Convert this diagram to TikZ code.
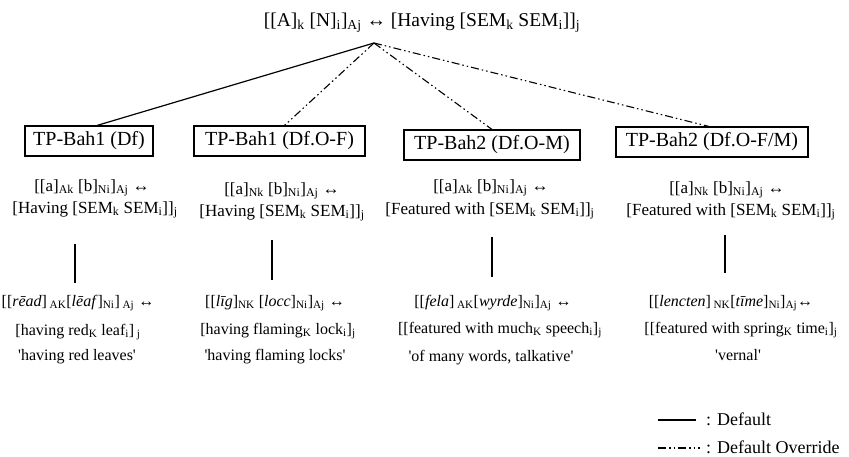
\documentclass[tikz,border=0pt]{standalone}
\usepackage{fontspec}
\setmainfont{Liberation Serif}
\newcommand{\sbs}[1]{\textsubscript{#1}}
\newcommand{\qq}{\textquotesingle}
\begin{document}
\begin{tikzpicture}[x=1pt,y=-1pt,
  ttl/.style={font=\fontsize{19.5}{23}\selectfont, inner sep=0, anchor=base},
  tpbox/.style={draw, line width=1.1pt, font=\fontsize{20}{24}\selectfont, minimum height=30pt, inner sep=0},
  midtxt/.style={font=\fontsize{17}{20}\selectfont, inner sep=0, anchor=base},
  lowtxt/.style={font=\fontsize{16}{19}\selectfont, inner sep=0, anchor=base},
  legtxt/.style={font=\fontsize{18}{21}\selectfont, inner sep=0, anchor=base west},
  dflt/.style={line width=1.2pt},
  ovr/.style={line width=1.1pt, dash pattern=on 8pt off 3pt on 1.5pt off 3pt on 1.5pt off 3pt},
  vbar/.style={line width=1.2pt}]
\useasboundingbox (0,0) rectangle (849,456);

\node[ttl] (title) at (422,26) {[[A]\sbs{k} [N]\sbs{i}]\sbs{Aj} ↔ [Having [SEM\sbs{k} SEM\sbs{i}]]\sbs{j}};
\coordinate (apex) at (374,43);

\node[tpbox, minimum width=128pt] (b1) at (89,141) {TP-Bah1 (Df)};
\node[tpbox, minimum width=171pt] (b2) at (279.5,141) {TP-Bah1 (Df.O-F)};
\node[tpbox, minimum width=176pt] (b3) at (492,145) {TP-Bah2 (Df.O-M)};
\node[tpbox, minimum width=192pt] (b4) at (712,142) {TP-Bah2 (Df.O-F/M)};

\draw[dflt] (apex) -- ([xshift=8pt]b1.north);
\draw[ovr] (apex) -- ([xshift=5pt]b2.north);
\draw[ovr] (apex) -- (b3.north);
\draw[ovr] (apex) -- ([xshift=-3pt]b4.north);

% middle schemas
\node[midtxt] (m1a) at (92,191) {[[a]\sbs{Ak} [b]\sbs{Ni}]\sbs{Aj} ↔};
\node[midtxt] (m1b) at (95,213) {[Having [SEM\sbs{k} SEM\sbs{i}]]\sbs{j}};
\node[midtxt] (m2a) at (282,194) {[[a]\sbs{Nk} [b]\sbs{Ni}]\sbs{Aj} ↔};
\node[midtxt] (m2b) at (282,216) {[Having [SEM\sbs{k} SEM\sbs{i}]]\sbs{j}};
\node[midtxt] (m3a) at (491,191) {[[a]\sbs{Ak} [b]\sbs{Ni}]\sbs{Aj} ↔};
\node[midtxt] (m3b) at (490,214) {[Featured with [SEM\sbs{k} SEM\sbs{i}]]\sbs{j}};
\node[midtxt] (m4a) at (727,193) {[[a]\sbs{Nk} [b]\sbs{Ni}]\sbs{Aj} ↔};
\node[midtxt] (m4b) at (731,215) {[Featured with [SEM\sbs{k} SEM\sbs{i}]]\sbs{j}};

% vertical bars
\coordinate (v1a) at (75,244);  \coordinate (v1b) at (75,283);
\coordinate (v2a) at (272,240); \coordinate (v2b) at (272,280);
\coordinate (v3a) at (492,237); \coordinate (v3b) at (492,277);
\coordinate (v4a) at (725,235); \coordinate (v4b) at (725,273);
\draw[vbar] (v1a) -- (v1b);
\draw[vbar] (v2a) -- (v2b);
\draw[vbar] (v3a) -- (v3b);
\draw[vbar] (v4a) -- (v4b);

% lower examples
\node[lowtxt] (e1a) at (78,306) {[[\textit{rēad}]\,\sbs{AK}[\textit{lēaf}]\sbs{Ni}]\,\sbs{Aj} ↔};
\node[lowtxt] (e1b) at (78,335) {[having red\sbs{K} leaf\sbs{i}]\,\sbs{j}};
\node[lowtxt] (e1c) at (77,360) {\qq having red leaves\qq};
\node[lowtxt] (e2a) at (275,306) {[[\textit{līg}]\sbs{NK} [\textit{locc}]\sbs{Ni}]\sbs{Aj} ↔};
\node[lowtxt] (e2b) at (278,334) {[having flaming\sbs{K} lock\sbs{i}]\sbs{j}};
\node[lowtxt] (e2c) at (275,360) {\qq having flaming locks\qq};
\node[lowtxt] (e3a) at (493,306) {[[\textit{fela}]\,\sbs{AK}[\textit{wyrde}]\sbs{Ni}]\sbs{Aj} ↔};
\node[lowtxt] (e3b) at (500,333) {[[featured with much\sbs{K} speech\sbs{i}]\sbs{j}};
\node[lowtxt] (e3c) at (491,361) {\qq of many words, talkative\qq};
\node[lowtxt] (e4a) at (731,306) {[[\textit{lencten}]\,\sbs{NK}[\textit{tīme}]\sbs{Ni}]\sbs{Aj}↔};
\node[lowtxt] (e4b) at (741,333) {[[featured with spring\sbs{K} time\sbs{i}]\sbs{j}};
\node[lowtxt] (e4c) at (738,360) {\qq vernal\qq};

% legend
\coordinate (l1a) at (658,420); \coordinate (l1b) at (696,420);
\coordinate (l2a) at (658,448); \coordinate (l2b) at (700,448);
\draw[dflt] (l1a) -- (l1b);
\draw[ovr] (l2a) -- (l2b);
\node[legtxt] (lt1) at (706,425) {: Default};
\node[legtxt] (lt2) at (706,453) {: Default Override};
\end{tikzpicture}
\end{document}
